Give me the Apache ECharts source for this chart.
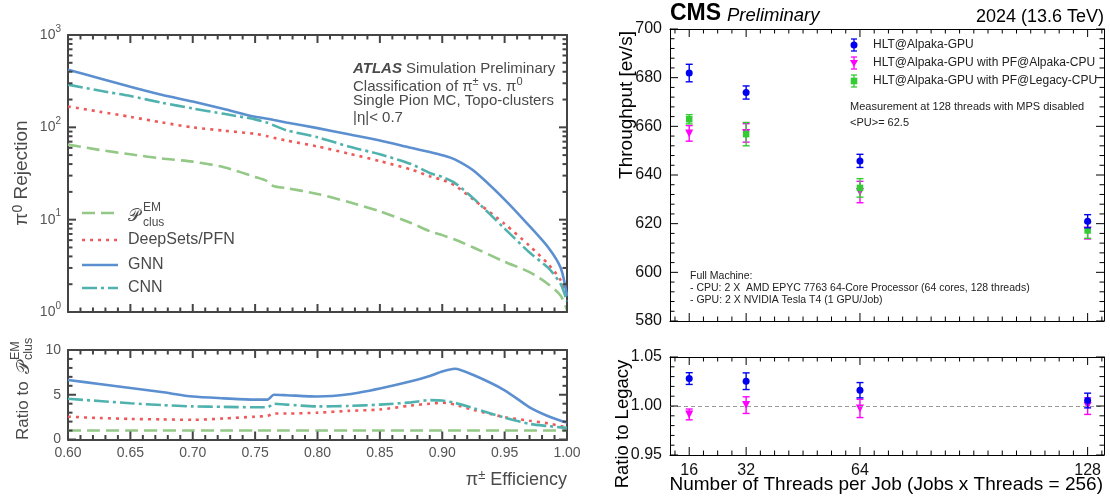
<!DOCTYPE html>
<html><head><meta charset="utf-8">
<script src="https://cdn.jsdelivr.net/npm/echarts@6/dist/echarts.min.js"></script>
<style>html,body{margin:0;padding:0;background:#fff}#c{width:1110px;height:499px}</style>
</head><body><div id="c"></div>
<script>
// ---------- Left panel data (ATLAS) ----------
const efficiency = [0.60,0.625,0.65,0.675,0.70,0.725,0.75,0.76,0.765,0.775,0.80,0.825,0.85,0.875,0.89,0.90,0.91,0.925,0.95,0.97,0.985,0.995,1.0];
const rejEM  = [65,57,51,46,42.5,37,29,26,23,22,19,15.5,12.3,9.2,7.5,6.8,6.1,5.0,3.5,2.7,2.0,1.5,1.05];
const rejDS  = [168,148,130,113,100,92,85,80,77,72,62,52,43,35,29.5,27,23.5,16.5,9.0,5.2,3.3,2.2,1.5];
const rejGNN = [420,340,275,225,190,158,130,124,120,113,98,84,72,60,54,50,45,34,16.5,8.5,5.0,3.0,1.5];
const rejCNN = [290,250,218,185,160,140,122,112,105,93,78,62,51,40,32,29,25,17,8.0,4.4,3.0,2.0,1.3];
const ratioEM  = [1,1,1,1,1,1,1,1,1,1,1,1,1,1,1,1,1,1,1,1,1,1,1];
const ratioDS  = [2.55,2.4,2.3,2.25,2.2,2.35,2.55,2.65,2.9,2.9,3.0,3.2,3.35,3.8,4.0,4.1,3.9,3.3,2.5,2.1,1.8,1.5,1.4];
const ratioGNN = [6.65,6.2,5.75,5.3,4.8,4.6,4.45,4.45,5.0,4.95,4.8,5.05,5.7,6.5,7.1,7.6,7.9,7.2,5.5,3.6,2.6,2.1,1.9];
const ratioCNN = [4.55,4.3,4.05,3.85,3.7,3.65,3.6,3.6,4.0,3.9,3.7,3.75,3.9,4.15,4.4,4.35,4.1,3.5,2.45,1.75,1.5,1.35,1.3];

// tick values (left panel)
const effMajorTicks = [0.60,0.65,0.70,0.75,0.80,0.85,0.90,0.95,1.00];
const effMinorTicks = [0.61,0.62,0.63,0.64,0.66,0.67,0.68,0.69,0.71,0.72,0.73,0.74,0.76,0.77,0.78,0.79,0.81,0.82,0.83,0.84,0.86,0.87,0.88,0.89,0.91,0.92,0.93,0.94,0.96,0.97,0.98,0.99];
const logMajorTicks = [1,10,100,1000];
const logMinorTicks = [2,3,4,5,6,7,8,9,20,30,40,50,60,70,80,90,200,300,400,500,600,700,800,900];
const ratioMajorTicks = [0,5,10];
const ratioMinorTicks = [1,2,3,4,6,7,8,9];

// ---------- Right panel data (CMS) ----------
const threads = [16,32,64,128];
const threadMinorTicks = [12,20,24,28,36,40,44,48,52,56,60,68,72,76,80,84,88,92,96,100,104,108,112,116,120,124,132];
const tputMajorTicks = [580,600,620,640,660,680,700];
const tputMinorTicks = [584,588,592,596,604,608,612,616,624,628,632,636,644,648,652,656,664,668,672,676,684,688,692,696];
const legacyMajorTicks = [0.95,1.00,1.05];
const legacyMinorTicks = [0.96,0.97,0.98,0.99,1.01,1.02,1.03,1.04];
const tputGPU = [681.9,673.9,645.8,621.0];
const tputGPUErr = [3.6,2.7,2.7,2.7];
const tputAlpakaCPU = [657.1,657.3,633.0,617.2];
const tputAlpakaCPUErr = [3.2,3.8,4.4,3.5];
const tputLegacyCPU = [662.9,656.8,634.7,617.2];
const tputLegacyCPUErr = [1.9,4.8,3.8,3.2];
const ratioGPU = [1.028,1.0253,1.0161,1.0056];
const ratioGPUErr = [0.006,0.0085,0.0078,0.0075];
const ratioAlpakaCPU = [0.9914,1.0009,0.9975,0.9999];
const ratioAlpakaCPUErr = [0.0055,0.0085,0.0093,0.0085];

const FONT = "'Liberation Sans', Arial, Helvetica, 'DejaVu Sans', sans-serif";
const LC = '#444';
const TC = '#4a4a4a';
const C_EM = '#93c886', C_DS = '#ee5a5a', C_GNN = '#5b8fd0', C_CNN = '#4fb2ae';
const C_BLUE = '#0000f0', C_MAG = '#ff00ff', C_GRN = '#33cc33';

const G = [
  {left:68, top:35, width:499, height:277},
  {left:68, top:350, width:499, height:89.5},
  {left:670, top:29, width:434, height:292},
  {left:670, top:357, width:434, height:98}
];

const lineOf = (show, color, w) => ({show:show, onZero:false, lineStyle:{color:color, width:w}});
const hide = () => ({show:false});
function xAxisDef(g, far, o) {
  return Object.assign({type:'value', gridIndex:g, position:'bottom', offset: far ? -G[g].height : 0,
    splitLine:hide(), axisLabel:hide(), axisTick:hide(), minorTick:hide()}, o);
}
function yAxisDef(g, far, o) {
  return Object.assign({type:'value', gridIndex:g, position:'left', offset: far ? -G[g].width : 0,
    splitLine:hide(), axisLabel:hide(), axisTick:hide(), minorTick:hide()}, o);
}
const supRich = (sz, color) => ({b:{fontSize:sz, color:color, fontFamily:FONT, lineHeight:22}, s:{fontSize:Math.round(sz*0.72), color:color, fontFamily:FONT, verticalAlign:'top', lineHeight:12}});

const xAxes = [
  xAxisDef(0, false, {min:0.6, max:1.0, interval:0.05, axisLine:lineOf(true, LC, 2)}),
  xAxisDef(0, true,  {min:0.6, max:1.0, interval:0.05, axisLine:lineOf(true, LC, 2)}),
  xAxisDef(1, false, {min:0.6, max:1.0, interval:0.05, axisLine:lineOf(true, LC, 2),
    axisLabel:{show:true, color:'#555', fontSize:14, fontFamily:FONT, margin:7, formatter:v=>v.toFixed(2)}}),
  xAxisDef(1, true,  {min:0.6, max:1.0, interval:0.05, axisLine:lineOf(true, LC, 2)}),
  xAxisDef(2, false, {min:10.6, max:132.6, axisLine:lineOf(true, '#000', 1)}),
  xAxisDef(2, true,  {min:10.6, max:132.6, axisLine:lineOf(true, '#000', 1)}),
  xAxisDef(3, false, {min:10.6, max:132.6, axisLine:lineOf(true, '#000', 1),
    axisLabel:{show:true, color:'#111', fontSize:16, fontFamily:FONT, margin:8, customValues:threads}}),
  xAxisDef(3, true,  {min:10.6, max:132.6, axisLine:lineOf(true, '#000', 1)})
];
const yAxes = [
  yAxisDef(0, false, {type:'log', logBase:10, min:1, max:1000, axisLine:lineOf(true, LC, 2),
    axisLabel:{show:true, margin:7, customValues:logMajorTicks, formatter:v=>'{b|10}{s|'+Math.round(Math.log10(v))+'}', rich:supRich(14,'#555')}}),
  yAxisDef(0, true,  {type:'log', logBase:10, min:1, max:1000, axisLine:lineOf(true, LC, 2)}),
  yAxisDef(1, false, {min:0, max:10, interval:5, axisLine:lineOf(true, LC, 2),
    axisLabel:{show:true, color:'#555', fontSize:14, fontFamily:FONT, margin:7}}),
  yAxisDef(1, true,  {min:0, max:10, interval:5, axisLine:lineOf(true, LC, 2)}),
  yAxisDef(2, false, {min:580, max:700, interval:20, axisLine:lineOf(true, '#000', 1),
    axisLabel:{show:true, color:'#111', fontSize:16, fontFamily:FONT, margin:8}}),
  yAxisDef(2, true,  {min:580, max:700, interval:20, axisLine:lineOf(true, '#000', 1)}),
  yAxisDef(3, false, {min:0.95, max:1.05, interval:0.05, axisLine:lineOf(true, '#000', 1),
    axisLabel:{show:true, color:'#111', fontSize:16, fontFamily:FONT, margin:8, formatter:v=>v.toFixed(2)}}),
  yAxisDef(3, true,  {min:0.95, max:1.05, interval:0.05, axisLine:lineOf(true, '#000', 1)})
];
// indices: grid0 -> x0,y0 ; grid1 -> x2,y2 ; grid2 -> x4,y4 ; grid3 -> x6,y6

// tick marks on all four frame sides, placed through the axes' own scales
function tickSeries(xi, yi, xMid, yMid, xMajor, xMinor, yMajor, yMinor, majLen, minLen, color, width) {
  const data = [];
  xMajor.forEach(v => data.push([v, yMid, majLen, 0]));
  xMinor.forEach(v => data.push([v, yMid, minLen, 0]));
  yMajor.forEach(v => data.push([xMid, v, majLen, 1]));
  yMinor.forEach(v => data.push([xMid, v, minLen, 1]));
  return {type:'custom', xAxisIndex:xi, yAxisIndex:yi, silent:true, z:10, clip:false, data:data, encode:{x:0, y:1},
    renderItem:(params, api) => {
      const cs = params.coordSys;
      const p = api.coord([api.value(0), api.value(1)]);
      const len = api.value(2), isY = api.value(3);
      const st = {stroke:color, lineWidth:width};
      if (!isY) {
        const b = cs.y + cs.height, t = cs.y;
        return {type:'group', children:[
          {type:'line', shape:{x1:p[0], y1:b, x2:p[0], y2:b-len}, style:st},
          {type:'line', shape:{x1:p[0], y1:t, x2:p[0], y2:t+len}, style:st}]};
      }
      const l = cs.x, r = cs.x + cs.width;
      return {type:'group', children:[
        {type:'line', shape:{x1:l, y1:p[1], x2:l+len, y2:p[1]}, style:st},
        {type:'line', shape:{x1:r, y1:p[1], x2:r-len, y2:p[1]}, style:st}]};
    }};
}

const pairs = (xs, ys) => xs.map((x,i)=>[x, ys[i]]);
function curve(name, ys, color, dash, xi, yi, z) {
  return {type:'line', name:name, xAxisIndex:xi, yAxisIndex:yi, data:pairs(efficiency, ys), showSymbol:false, smooth:0.25,
    z:z, lineStyle:{color:color, width:2.6, type:dash, cap:'butt'}, silent:true};
}
const DASH_EM = [13,6], DASH_DS = [3,5], DASH_CNN = [15,4,3,4];

function errBars(ys, es, color, xi, yi, z) {
  return {type:'custom', xAxisIndex:xi, yAxisIndex:yi, z:z, silent:true,
    data: threads.map((t,i)=>[t, ys[i], es[i]]), encode:{x:0, y:1},
    renderItem:(params, api) => {
      const x = api.value(0), y = api.value(1), e = api.value(2);
      const top = api.coord([x, y+e]), bot = api.coord([x, y-e]);
      const st = {stroke:color, lineWidth:1.4};
      return {type:'group', children:[
        {type:'line', shape:{x1:top[0], y1:top[1], x2:bot[0], y2:bot[1]}, style:st},
        {type:'line', shape:{x1:top[0]-3.5, y1:top[1], x2:top[0]+3.5, y2:top[1]}, style:st},
        {type:'line', shape:{x1:bot[0]-3.5, y1:bot[1], x2:bot[0]+3.5, y2:bot[1]}, style:st}
      ]};
    }};
}
function markers(ys, color, symbol, size, rot, xi, yi, z) {
  return {type:'scatter', xAxisIndex:xi, yAxisIndex:yi, z:z, silent:true, data:pairs(threads, ys),
    symbol:symbol, symbolSize:size, symbolRotate:rot, itemStyle:{color:color, opacity:1}};
}

const series = [
  curve('EM', rejEM, C_EM, DASH_EM, 0, 0, 2),
  curve('DS', rejDS, C_DS, DASH_DS, 0, 0, 3),
  curve('GNN', rejGNN, C_GNN, 'solid', 0, 0, 4),
  curve('CNN', rejCNN, C_CNN, DASH_CNN, 0, 0, 5),
  curve('EMr', ratioEM, C_EM, DASH_EM, 2, 2, 2),
  curve('DSr', ratioDS, C_DS, DASH_DS, 2, 2, 3),
  curve('GNNr', ratioGNN, C_GNN, 'solid', 2, 2, 4),
  curve('CNNr', ratioCNN, C_CNN, DASH_CNN, 2, 2, 5),
  errBars(tputAlpakaCPU, tputAlpakaCPUErr, C_MAG, 4, 4, 3),
  markers(tputAlpakaCPU, C_MAG, 'triangle', 8, 180, 4, 4, 4),
  errBars(tputLegacyCPU, tputLegacyCPUErr, C_GRN, 4, 4, 5),
  markers(tputLegacyCPU, C_GRN, 'rect', 6.5, 0, 4, 4, 6),
  errBars(tputGPU, tputGPUErr, C_BLUE, 4, 4, 7),
  markers(tputGPU, C_BLUE, 'circle', 7, 0, 4, 4, 8),
  Object.assign(errBars(ratioAlpakaCPU, ratioAlpakaCPUErr, C_MAG, 6, 6, 3), {
    markLine:{silent:true, symbol:'none', label:{show:false}, lineStyle:{color:'#999', width:1, type:[4,3]}, data:[{yAxis:1}]}}),
  markers(ratioAlpakaCPU, C_MAG, 'triangle', 8, 180, 6, 6, 4),
  errBars(ratioGPU, ratioGPUErr, C_BLUE, 6, 6, 5),
  markers(ratioGPU, C_BLUE, 'circle', 7, 0, 6, 6, 6),
  tickSeries(0, 0, 0.8, 10, effMajorTicks, effMinorTicks, logMajorTicks, logMinorTicks, 8, 4.5, LC, 2),
  tickSeries(2, 2, 0.8, 5, effMajorTicks, effMinorTicks, ratioMajorTicks, ratioMinorTicks, 8, 4.5, LC, 2),
  tickSeries(4, 4, 64, 640, threads, threadMinorTicks, tputMajorTicks, tputMinorTicks, 8, 4.5, '#000', 1),
  tickSeries(6, 6, 64, 1.0, threads, threadMinorTicks, legacyMajorTicks, legacyMinorTicks, 8, 4.5, '#000', 1)
];

function txt(x, y, text, font, color, align, va, rot) {
  const el = {type:'text', x:x, y:y, silent:true, style:{text:text, font:font, fill:color, align:align||'left', verticalAlign:va||'middle'}};
  if (rot) el.rotation = rot;
  return el;
}
const f = (sz, w) => (w||'') + ' ' + sz + 'px ' + FONT;
const richSup = (sz, color) => ({s:{font:f(Math.round(sz*0.72)), fill:color, verticalAlign:'top', lineHeight:11}, n:{font:f(sz), fill:color, lineHeight:22}});

function legLine(y, color, dash) {
  return {type:'line', silent:true, shape:{x1:82, y1:y, x2:118, y2:y}, style:{stroke:color, lineWidth:2.6, lineDash: dash === 'solid' ? null : dash}};
}
function legMarker(y, color, kind) {
  const x = 854;
  const st = {stroke:color, lineWidth:1.3};
  const els = [
    {type:'line', shape:{x1:x, y1:y-6, x2:x, y2:y+6}, style:st},
    {type:'line', shape:{x1:x-3, y1:y-6, x2:x+3, y2:y-6}, style:st},
    {type:'line', shape:{x1:x-3, y1:y+6, x2:x+3, y2:y+6}, style:st}
  ];
  if (kind === 'c') els.push({type:'circle', shape:{cx:x, cy:y, r:3.5}, style:{fill:color}});
  if (kind === 't') els.push({type:'polygon', shape:{points:[[x-4,y-3],[x+4,y-3],[x,y+4]]}, style:{fill:color}});
  if (kind === 's') els.push({type:'rect', shape:{x:x-3.3, y:y-3.3, width:6.6, height:6.6}, style:{fill:color}});
  return {type:'group', silent:true, children:els};
}

const graphic = [
  {type:'text', x:22, y:173, rotation:Math.PI/2, silent:true,
    style:{text:'{n|π}{s|0}{n| Rejection}', align:'center', verticalAlign:'middle', rich:richSup(19, TC)}},
  {type:'group', x:23, y:440, rotation:Math.PI/2, silent:true, children:[
    txt(0, 0, 'Ratio to ', f(17), TC, 'left', 'middle'),
    txt(66, 1, '𝒫', f(18), TC, 'left', 'middle'),
    txt(80, -7, 'EM', f(12.5), TC, 'left', 'middle'),
    txt(80, 6, 'clus', f(12.5), TC, 'left', 'middle')
  ]},
  {type:'text', x:567, y:480, silent:true,
    style:{text:'{n|π}{s|±}{n| Efficiency}', align:'right', verticalAlign:'middle', rich:richSup(18, TC)}},
  {type:'text', x:353, y:69, silent:true, style:{text:'{b|ATLAS}{n| Simulation Preliminary}', align:'left', verticalAlign:'middle',
    rich:{b:{font:'italic bold 15px '+FONT, fill:TC}, n:{font:f(15), fill:TC}}}},
  {type:'text', x:353, y:87, silent:true, style:{text:'{n|Classification of π}{s|±}{n| vs. π}{s|0}', align:'left', verticalAlign:'middle', rich:richSup(15, TC)}},
  txt(353, 101, 'Single Pion MC, Topo-clusters', f(15), TC),
  txt(353, 118, '|η|< 0.7', f(15), TC),
  legLine(213, C_EM, DASH_EM), legLine(240, C_DS, DASH_DS), legLine(265, C_GNN, 'solid'), legLine(288, C_CNN, DASH_CNN),
  txt(128, 216, '𝒫', f(17), TC),
  txt(143, 208, 'EM', f(12), TC),
  txt(143, 223, 'clus', f(12), TC),
  txt(128, 240, 'DeepSets/PFN', f(16), TC),
  txt(128, 265, 'GNN', f(16), TC),
  txt(128, 288, 'CNN', f(16), TC),
  txt(670, 25, 'CMS', 'bold 23px '+FONT, '#000', 'left', 'bottom'),
  txt(727, 25, 'Preliminary', 'italic 18.5px '+FONT, '#000', 'left', 'bottom'),
  txt(1104, 17, '2024 (13.6 TeV)', f(18), '#000', 'right', 'middle'),
  txt(627, 105, 'Throughput [ev/s]', f(19), '#000', 'center', 'middle', Math.PI/2),
  txt(623, 424, 'Ratio to Legacy', f(18.5), '#000', 'center', 'middle', Math.PI/2),
  txt(1103, 485, 'Number of Threads per Job (Jobs x Threads = 256)', f(19), '#000', 'right', 'middle'),
  legMarker(45, C_BLUE, 'c'), legMarker(63, C_MAG, 't'), legMarker(81, C_GRN, 's'),
  txt(873, 45, 'HLT@Alpaka-GPU', f(12), '#222'),
  txt(873, 63, 'HLT@Alpaka-GPU with PF@Alpaka-CPU', f(12), '#222'),
  txt(873, 81, 'HLT@Alpaka-GPU with PF@Legacy-CPU', f(12), '#222'),
  txt(850, 107, 'Measurement at 128 threads with MPS disabled', f(11), '#222'),
  txt(850, 123, '<PU>= 62.5', f(11), '#222'),
  txt(690, 276, 'Full Machine:', f(10.5), '#222'),
  txt(690, 288, '- CPU: 2 X  AMD EPYC 7763 64-Core Processor (64 cores, 128 threads)', f(10.5), '#222'),
  txt(690, 300, '- GPU: 2 X NVIDIA Tesla T4 (1 GPU/Job)', f(10.5), '#222')
];

const chart = echarts.init(document.getElementById('c'), null, {renderer:'canvas'});
chart.setOption({
  animation:false,
  backgroundColor:'#fff',
  grid:G.map(g => Object.assign({}, g)),
  xAxis:xAxes, yAxis:yAxes, series:series, graphic:graphic
});
</script></body></html>
